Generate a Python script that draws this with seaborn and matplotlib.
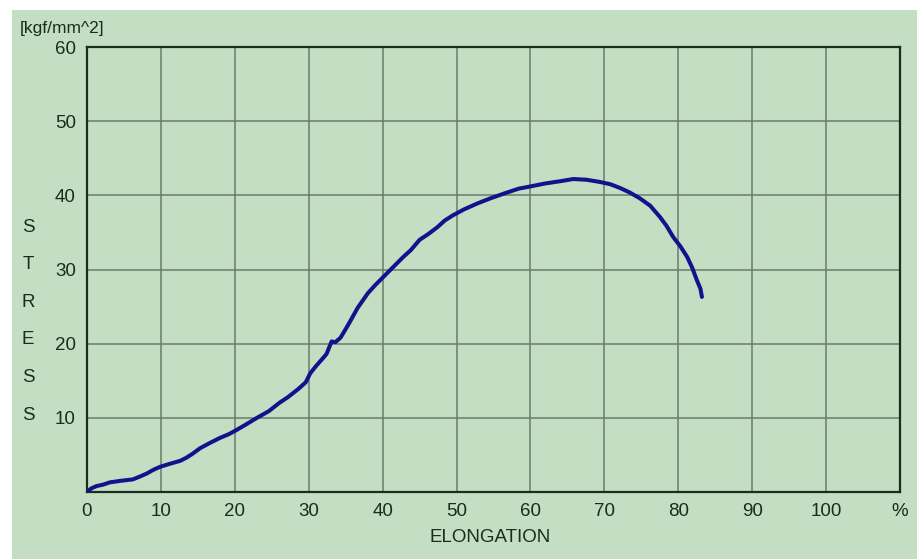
import pandas as pd
import seaborn as sns
import matplotlib.pyplot as plt
from matplotlib.patches import Rectangle

sns.set_theme(style="white")
plt.rcParams['font.family'] = ['Liberation Sans', 'DejaVu Sans']

# tensile test curve
elongation = [0.0, 0.6, 1.3, 2.2, 3.1, 4.5, 6.2, 7.2, 8.1, 9.0, 9.9, 11.2, 12.6, 13.4,
              14.2, 15.3, 16.6, 18.0, 19.2, 20.3, 21.5, 23.0, 24.6, 26.0, 27.2,
              28.6, 29.6, 30.2, 31.0, 31.8, 32.4, 33.1, 33.6, 34.3, 34.9, 35.6,
              36.6, 38.0, 39.0, 40.1, 41.4, 42.8, 43.8, 45.0, 46.2, 47.4, 48.4,
              49.5, 51.0, 52.8, 54.6, 56.6, 58.4, 60.0, 62.0, 64.0, 65.8, 67.6,
              69.4, 70.8, 72.1, 73.4, 74.8, 76.2, 77.5, 78.4, 79.3, 80.3, 81.2,
              81.9, 82.5, 83.0, 83.2]
stress = [0.0, 0.5, 0.8, 1.0, 1.3, 1.5, 1.7, 2.1, 2.5, 3.0, 3.4, 3.8, 4.2, 4.6,
          5.1, 5.9, 6.6, 7.3, 7.8, 8.4, 9.1, 10.0, 10.9, 12.0, 12.8,
          13.9, 14.8, 16.0, 17.0, 17.9, 18.6, 20.3, 20.2, 20.8, 21.8, 23.0,
          24.8, 26.8, 27.9, 29.0, 30.3, 31.7, 32.6, 34.0, 34.8, 35.7, 36.6,
          37.3, 38.1, 38.9, 39.6, 40.3, 40.9, 41.2, 41.6, 41.9, 42.2, 42.1,
          41.8, 41.5, 41.0, 40.4, 39.6, 38.6, 37.1, 35.9, 34.4, 33.1, 31.7,
          30.2, 28.6, 27.4, 26.3]

x_ticks = [0, 10, 20, 30, 40, 50, 60, 70, 80, 90, 100, 110]
x_labels = ['0', '10', '20', '30', '40', '50', '60', '70', '80', '90', '100', '%']
y_ticks = [10, 20, 30, 40, 50, 60]

bg = '#c3dec3'
ink = '#1c2c1c'
df = pd.DataFrame({'elongation': elongation, 'stress': stress})

fig = plt.figure(figsize=(9.17, 5.59), dpi=100)
fig.patch.set_facecolor('white')
fig.add_artist(Rectangle((12 / 917, 0), 1, 1 - 10 / 559, transform=fig.transFigure,
                         facecolor=bg, edgecolor='none', zorder=0))
ax = fig.add_axes([87 / 917, 67 / 559, 813 / 917, 445 / 559])
ax.set_facecolor(bg)

sns.lineplot(data=df, x='elongation', y='stress', sort=False, ax=ax,
             color='#12128c', linewidth=2.9, zorder=3)

ax.set_xlim(0, 110)
ax.set_ylim(0, 60)
ax.set_xticks(x_ticks)
ax.set_xticklabels(x_labels)
ax.set_yticks(y_ticks)
for v in x_ticks[1:-1]:
    ax.axvline(v, color='#6b7a6b', linewidth=1.1, zorder=1)
for v in y_ticks[:-1]:
    ax.axhline(v, color='#6b7a6b', linewidth=1.1, zorder=1)
for s in ax.spines.values():
    s.set_color(ink)
    s.set_linewidth(1.6)
ax.tick_params(length=0, labelsize=13.5, colors=ink, pad=8)
ax.set_xlabel('')
ax.set_ylabel('')

fig.text(20 / 917, 1 - 28 / 559, '[kgf/mm^2]', fontsize=12.5, color=ink, va='center')
for i, ch in enumerate('STRESS'):
    fig.text(28 / 917, 1 - (227 + i * 37.6) / 559, ch, fontsize=13.5,
             color=ink, ha='center', va='center')
fig.text(490 / 917, 1 - 538 / 559, 'ELONGATION', fontsize=13.5, color=ink,
         ha='center', va='center')

fig.savefig('out.png', dpi=100, facecolor=fig.get_facecolor())
